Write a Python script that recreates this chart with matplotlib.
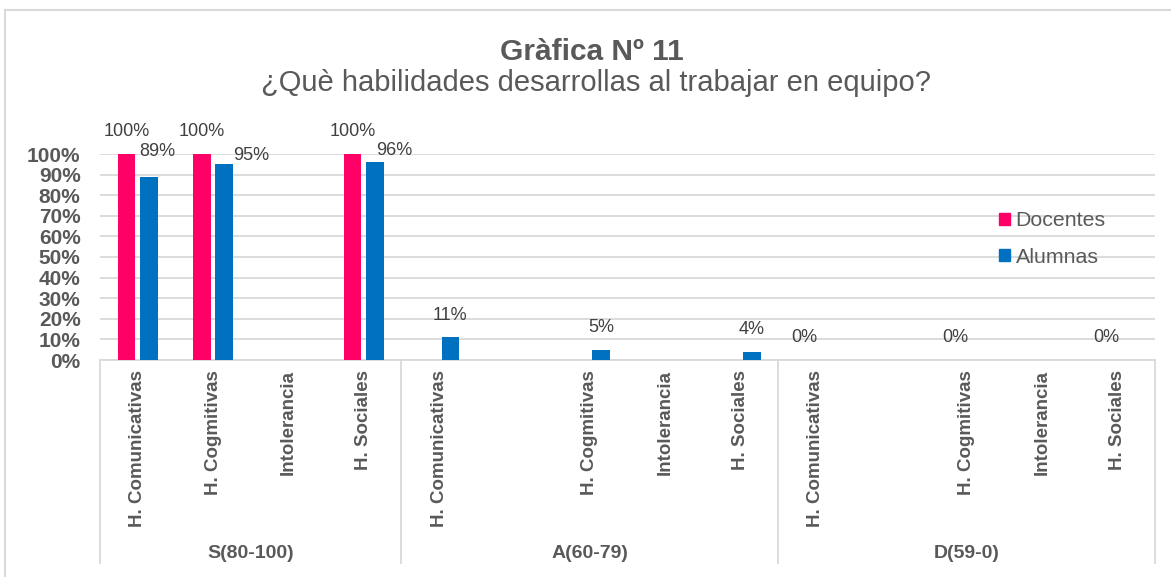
import matplotlib
matplotlib.use("Agg")
import matplotlib.pyplot as plt
from matplotlib.lines import Line2D
from matplotlib.patches import Patch
from matplotlib.transforms import blended_transform_factory

plt.rcParams['font.family'] = ['Liberation Sans', 'DejaVu Sans']

# data (None = no bar)
groups = ["S(80-100)", "A(60-79)", "D(59-0)"]
group_sizes = [4, 5, 5]
categories = ["H. Comunicativas", "H. Cogmitivas", "Intolerancia", "H. Sociales",
              "H. Comunicativas", "", "H. Cogmitivas", "Intolerancia", "H. Sociales",
              "H. Comunicativas", "", "H. Cogmitivas", "Intolerancia", "H. Sociales"]
docentes = [1.00, 1.00, None, 1.00,
            None, None, None, None, None,
            0.00, None, 0.00, None, 0.00]
alumnas = [0.89, 0.95, None, 0.96,
           0.11, None, 0.05, None, 0.04,
           None, None, None, None, None]

PINK = "#FF0066"
BLUE = "#0070C0"
GRID = "#D9D9D9"
TXT = "#595959"
LBL = "#404040"

# label nudges (points) for the Alumnas labels that were moved by hand in the original
alumnas_nudge = {0: (6, 18), 1: (19, 6.5), 3: (13.5, 8.5)}

fig = plt.figure(figsize=(11.71, 5.77), dpi=100)
ax = fig.add_axes([100 / 1171, 1 - 360 / 577, 1055 / 1171, 206 / 577])

n = len(categories)
xs = [i + 0.5 for i in range(n)]
w = 0.235
off = 0.15

for i, v in enumerate(docentes):
    if v is None:
        continue
    ax.bar(xs[i] - off, v, width=w, color=PINK, zorder=3)
    ax.annotate("{:.0f}%".format(v * 100), (xs[i] - off, v), xytext=(0, 16),
                textcoords="offset points", ha="center", va="center",
                fontsize=13, color=LBL)

for i, v in enumerate(alumnas):
    if v is None:
        continue
    ax.bar(xs[i] + off, v, width=w, color=BLUE, zorder=3)
    dx, dy = alumnas_nudge.get(i, (0, 16))
    ax.annotate("{:.0f}%".format(v * 100), (xs[i] + off, v), xytext=(dx, dy),
                textcoords="offset points", ha="center", va="center",
                fontsize=13, color=LBL)

ax.set_xlim(0, n)
ax.set_ylim(0, 1)
ax.set_yticks([i / 10 for i in range(11)])
ax.set_yticklabels(["{}%".format(i * 10) for i in range(11)],
                   fontsize=15, fontweight="bold", color=TXT)
ax.tick_params(axis="y", length=0, pad=14)
ax.set_xticks([])
ax.grid(axis="y", color=GRID, linewidth=1.3, zorder=0)
ax.set_axisbelow(True)
for s in ["top", "right", "left"]:
    ax.spines[s].set_visible(False)
ax.spines["bottom"].set_color(GRID)
ax.spines["bottom"].set_linewidth(1.3)

# multi-level category axis
trans = blended_transform_factory(ax.transData, ax.transAxes)
for i, c in enumerate(categories):
    if c:
        ax.annotate(c, (xs[i], 0), xycoords=trans, xytext=(0, -7.5),
                    textcoords="offset points", rotation=90, ha="center", va="top",
                    fontsize=13.5, fontweight="bold", color=TXT)

bottom = -203 / 206
edges = [0]
for g in group_sizes:
    edges.append(edges[-1] + g)
for e in edges:
    ax.add_line(Line2D([e, e], [0, bottom], transform=trans, color=GRID,
                       linewidth=1.3, clip_on=False))
for g, a, b in zip(groups, edges[:-1], edges[1:]):
    ax.annotate(g, ((a + b) / 2, 0), xycoords=trans, xytext=(0, -139),
                textcoords="offset points", ha="center", va="center",
                fontsize=14, fontweight="bold", color=TXT)

# titles
fig.text(592 / 1171, 1 - 60 / 577, "Gràfica Nº 11", ha="center", va="baseline",
         fontsize=21.5, fontweight="bold", color=TXT)
fig.text(596 / 1171, 1 - 91 / 577, "¿Què habilidades desarrollas al trabajar en equipo?",
         ha="center", va="baseline", fontsize=21, color=TXT)

# legend
handles = [Patch(color=PINK, label="Docentes"), Patch(color=BLUE, label="Alumnas")]
leg = fig.legend(handles=handles, loc="center left",
                 bbox_to_anchor=(999 / 1171, 1 - 239 / 577), frameon=False,
                 fontsize=15.4, handlelength=0.52, handleheight=0.52,
                 handletextpad=0.25, labelspacing=0.8, borderpad=0, borderaxespad=0)
for t in leg.get_texts():
    t.set_color(TXT)

# chart border (only top and left visible in the crop)
fig.add_artist(Line2D([5 / 1171, 5 / 1171], [0, 1 - 10 / 577], color=GRID, linewidth=1.5))
fig.add_artist(Line2D([5 / 1171, 1], [1 - 10 / 577, 1 - 10 / 577], color=GRID, linewidth=1.5))

fig.savefig("out.png", dpi=100)
